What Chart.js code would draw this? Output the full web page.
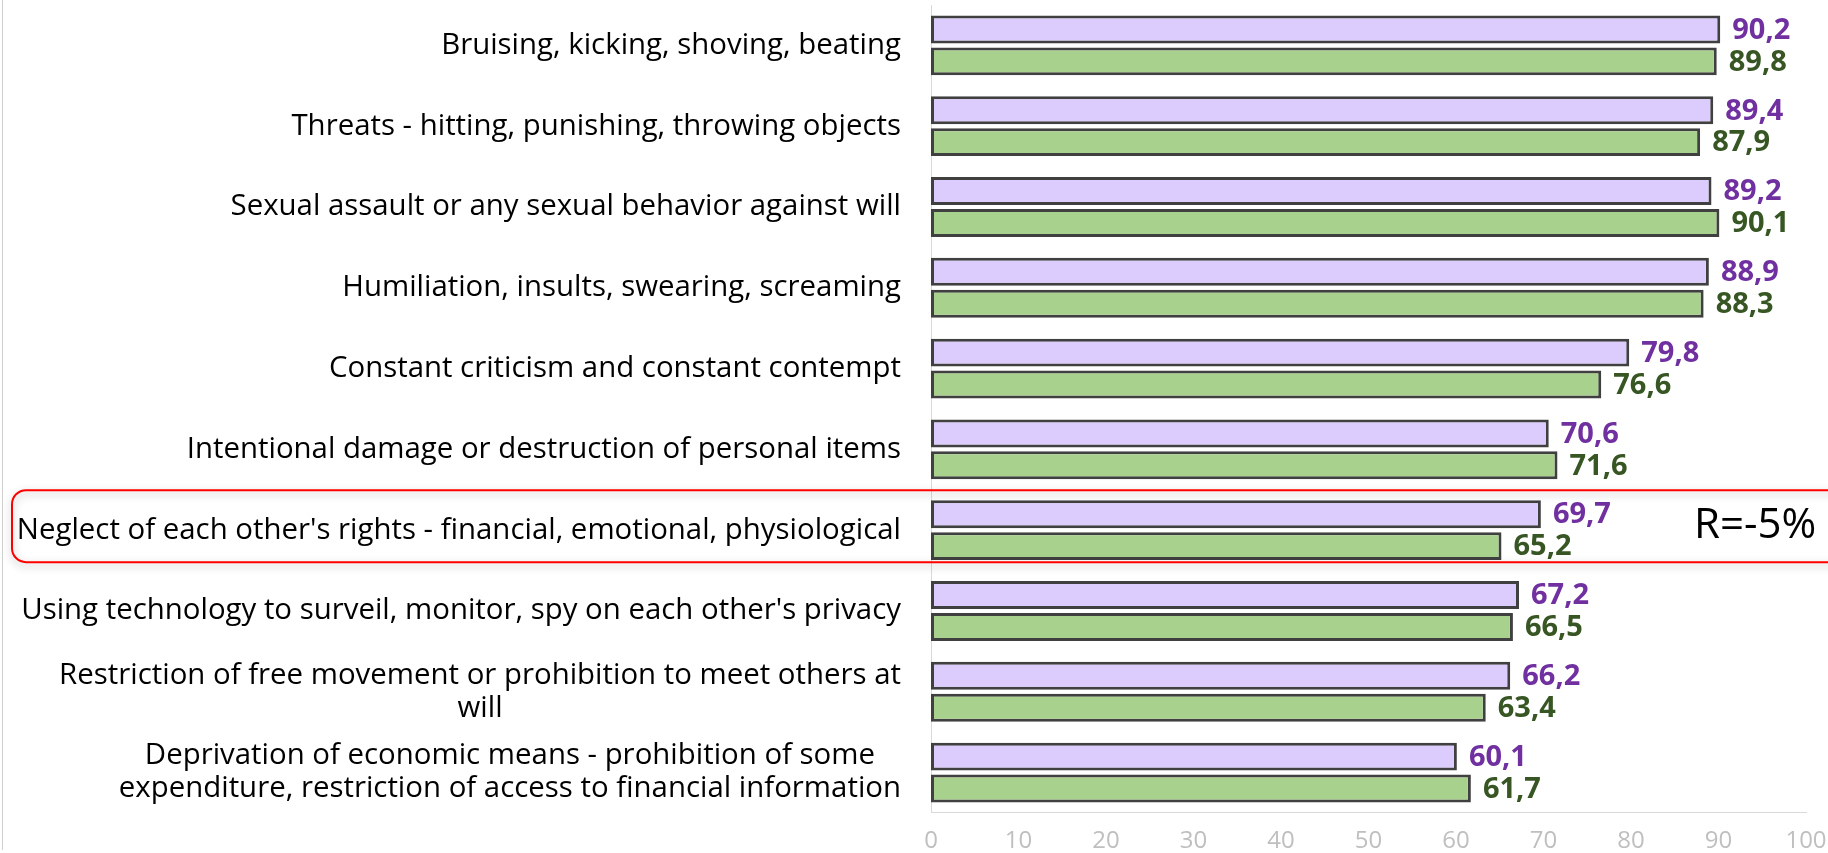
<!DOCTYPE html>
<html>
<head>
<meta charset="utf-8">
<script src="https://cdn.jsdelivr.net/npm/chart.js@4.4.1/dist/chart.umd.min.js"></script>
<style>
  body { margin: 0; background: #fff; }
  #wrap { width: 1828px; height: 853px; position: relative; }
</style>
</head>
<body>
<div id="wrap"><canvas id="myChart"></canvas></div>
<script>
const categories = [
    'Bruising, kicking, shoving, beating',
    'Threats - hitting, punishing, throwing objects',
    'Sexual assault or any sexual behavior against will',
    'Humiliation, insults, swearing, screaming',
    'Constant criticism and constant contempt',
    'Intentional damage or destruction of personal items',
    "Neglect of each other's rights - financial, emotional, physiological",
    "Using technology to surveil, monitor, spy on each other's privacy",
    ['Restriction of free movement or prohibition to meet others at', 'will'],
    ['Deprivation of economic means - prohibition of some', 'expenditure, restriction of access to financial information']
];
const purpleValues = [90.2, 89.4, 89.2, 88.9, 79.8, 70.6, 69.7, 67.2, 66.2, 60.1];
const greenValues = [89.8, 87.9, 90.1, 88.3, 76.6, 71.6, 65.2, 66.5, 63.4, 61.7];
const xTicks = [0, 10, 20, 30, 40, 50, 60, 70, 80, 90, 100];
const highlightIndex = 6;
const highlightText = 'R=-5%';

const labelColors = ['#7030a0', '#375623'];

// category labels: right aligned block, each line centred inside it (like the original)
const categoryLabels = {
    id: 'categoryLabels',
    afterDraw(chart) {
        const ctx = chart.ctx;
        const y = chart.scales.y;
        const right = chart.chartArea.left - 30;
        const lh = 33;
        ctx.save();
        ctx.font = '29.4px "Open Sans"';
        ctx.fillStyle = '#000';
        ctx.textBaseline = 'middle';
        ctx.textAlign = 'center';
        categories.forEach((c, i) => {
            const lines = Array.isArray(c) ? c : [c];
            const w = Math.max(...lines.map(l => ctx.measureText(l).width));
            const cy = y.getPixelForValue(i);
            lines.forEach((l, k) => {
                ctx.fillText(l, right - w / 2, cy + (k - (lines.length - 1) / 2) * lh);
            });
        });
        // faint page edge on the left
        ctx.strokeStyle = '#cfcfcf';
        ctx.lineWidth = 1;
        ctx.beginPath();
        ctx.moveTo(2.5, 0);
        ctx.lineTo(2.5, chart.height - 3);
        ctx.stroke();
        ctx.restore();
    }
};

const valueLabels = {
    id: 'valueLabels',
    afterDatasetsDraw(chart) {
        const ctx = chart.ctx;
        ctx.save();
        ctx.font = 'bold 29px "Open Sans"';
        ctx.textBaseline = 'middle';
        ctx.textAlign = 'left';
        chart.data.datasets.forEach((ds, d) => {
            ctx.fillStyle = labelColors[d];
            chart.getDatasetMeta(d).data.forEach((bar, i) => {
                ctx.fillText(ds.data[i].toFixed(1).replace('.', ','), bar.x + 12, bar.y + 1);
            });
        });
        ctx.restore();
    }
};

const highlight = {
    id: 'highlight',
    afterDraw(chart) {
        const ctx = chart.ctx;
        const cy = chart.scales.y.getPixelForValue(highlightIndex) - 4;
        const top = cy - 36, bottom = cy + 36, left = 12, right = chart.width + 10, r = 14;
        ctx.save();
        ctx.shadowColor = 'rgba(0,0,0,0.3)';
        ctx.shadowBlur = 8;
        ctx.shadowOffsetY = 3;
        ctx.strokeStyle = '#ff0000';
        ctx.lineWidth = 2;
        ctx.beginPath();
        ctx.moveTo(right, top);
        ctx.lineTo(left + r, top);
        ctx.arcTo(left, top, left, top + r, r);
        ctx.lineTo(left, bottom - r);
        ctx.arcTo(left, bottom, left + r, bottom, r);
        ctx.lineTo(right, bottom);
        ctx.stroke();
        ctx.shadowColor = 'transparent';
        ctx.font = '42px "Open Sans"';
        ctx.fillStyle = '#000';
        ctx.textBaseline = 'middle';
        ctx.fillText(highlightText, 1694, cy);
        ctx.restore();
    }
};

new Chart('myChart', {
    type: 'bar',
    data: {
        labels: categories,
        datasets: [{
            data: purpleValues,
            backgroundColor: '#dccbfd',
            borderColor: '#404040',
            borderWidth: 3,
            borderSkipped: false,
            categoryPercentage: 0.79,
            barPercentage: 0.875
        }, {
            data: greenValues,
            backgroundColor: '#a9d18e',
            borderColor: '#404040',
            borderWidth: 3,
            borderSkipped: false,
            categoryPercentage: 0.79,
            barPercentage: 0.875
        }]
    },
    options: {
        indexAxis: 'y',
        responsive: true,
        maintainAspectRatio: false,
        animation: false,
        layout: { padding: { top: 5, right: 22, left: 0, bottom: 0 } },
        plugins: { legend: { display: false }, tooltip: { enabled: false } },
        scales: {
            y: {
                ticks: { display: false },
                grid: { display: false, drawTicks: false },
                border: { color: '#d9d9d9', width: 1 },
                afterFit(scale) { scale.width = 931; }
            },
            x: {
                min: 0,
                max: 100,
                afterBuildTicks(scale) { scale.ticks = xTicks.map(v => ({ value: v })); },
                ticks: {
                    color: '#bfbfbf',
                    font: { family: '"Liberation Sans Narrow", "Open Sans"', size: 24, lineHeight: 0.96 },
                    padding: 0
                },
                grid: { display: false, drawTicks: true, tickLength: 17 },
                border: { color: '#d9d9d9', width: 1 }
            }
        }
    },
    plugins: [categoryLabels, valueLabels, highlight]
});
</script>
</body>
</html>
